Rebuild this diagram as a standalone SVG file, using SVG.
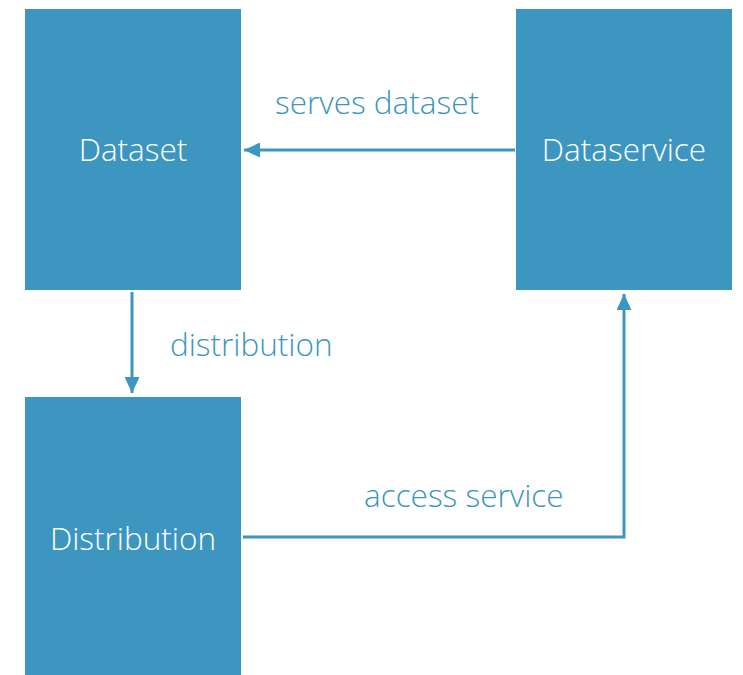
<svg xmlns="http://www.w3.org/2000/svg" width="743" height="675" viewBox="0 0 743 675">
<style>
.box{fill:#3d96c0}
.lbl{font-family:"Open Sans","Liberation Sans",sans-serif;font-size:31.5px;font-weight:300;fill:#ffffff;text-anchor:middle}
.elbl{font-family:"Open Sans","Liberation Sans",sans-serif;font-size:31.5px;font-weight:300;fill:#3d96c0}
.conn{fill:none;stroke:#3d96c0;stroke-width:3}
</style>
<defs>
<marker id="ah" markerWidth="16" markerHeight="15" refX="16" refY="7.5" orient="auto" markerUnits="userSpaceOnUse">
<path d="M0,0 L16,7.5 L0,15 Z" fill="#3d96c0"/>
</marker>
</defs>
<rect width="743" height="675" fill="#ffffff"/>
<g id="dataset">
<rect class="box" x="25" y="9" width="216" height="281"/>
<text class="lbl" x="133" y="161">Dataset</text>
</g>
<g id="dataservice">
<rect class="box" x="516" y="9" width="216" height="281"/>
<text class="lbl" x="624" y="161">Dataservice</text>
</g>
<g id="distribution">
<rect class="box" x="25" y="397" width="216" height="278"/>
<text class="lbl" x="133" y="550">Distribution</text>
</g>
<g id="connectors">
<line class="conn" x1="515" y1="150" x2="244" y2="150" marker-end="url(#ah)"/>
<line class="conn" x1="132" y1="292" x2="132" y2="393" marker-end="url(#ah)"/>
<polyline class="conn" points="243,537 624,537 624,294" marker-end="url(#ah)"/>
<text class="elbl" x="275" y="114">serves dataset</text>
<text class="elbl" x="170" y="356">distribution</text>
<text class="elbl" x="364" y="507">access service</text>
</g>
</svg>
